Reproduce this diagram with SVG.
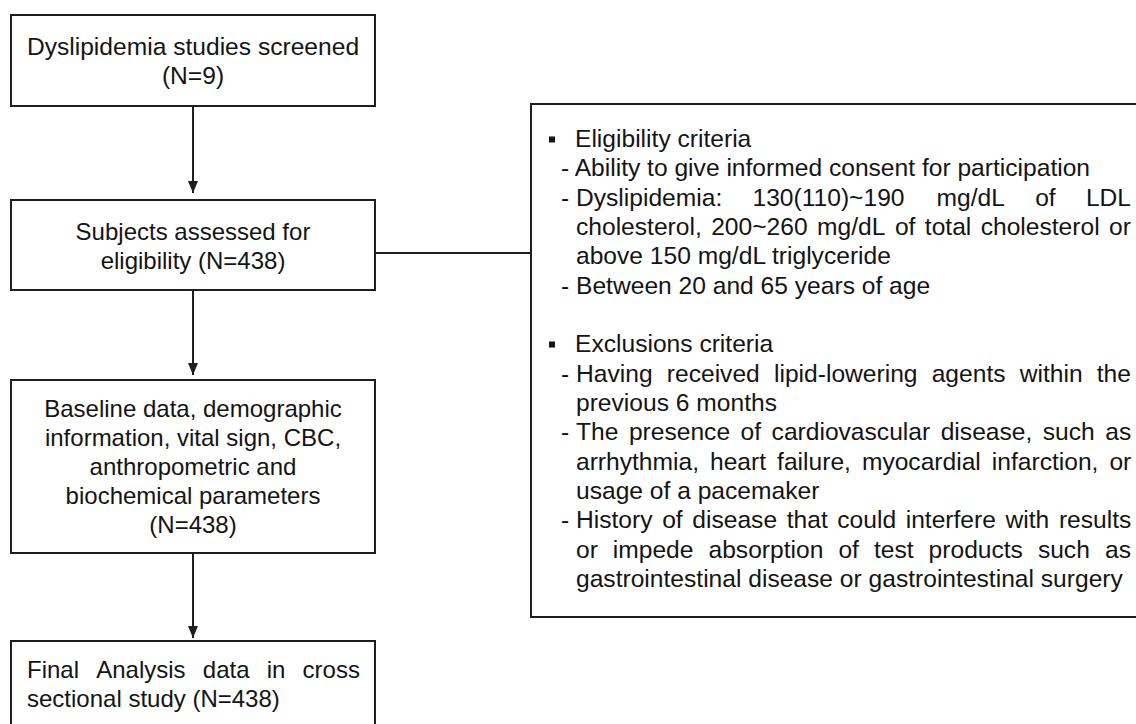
<svg xmlns="http://www.w3.org/2000/svg" width="1136" height="724" viewBox="0 0 1136 724">
<defs>
<style>
.box{fill:#fff;stroke:#1e1e1e;stroke-width:2}
.t{font-family:"Liberation Sans",Arial,sans-serif;font-size:24px;fill:#141414}
.r{font-size:24.6px}
.c{text-anchor:middle}
.ln{stroke:#1e1e1e;stroke-width:2;fill:none}
.bul{fill:#141414}
</style>
<marker id="ah" viewBox="0 0 12 10" refX="12" refY="5" markerWidth="12" markerHeight="10" markerUnits="userSpaceOnUse" orient="auto">
<path d="M0,0 L12,5 L0,10 Z" fill="#1e1e1e"/>
</marker>
</defs>
<rect width="1136" height="724" fill="#fff"/>

<g id="connectors">
<line class="ln" x1="193" y1="106" x2="193" y2="193" marker-end="url(#ah)"/>
<line class="ln" x1="193" y1="290" x2="193" y2="375" marker-end="url(#ah)"/>
<line class="ln" x1="193" y1="553" x2="193" y2="638" marker-end="url(#ah)"/>
<line class="ln" x1="375" y1="253" x2="531" y2="253"/>
</g>

<g id="screened">
<rect class="box" x="11" y="15" width="364" height="91"/>
<text class="t r c" x="193" y="54.5">Dyslipidemia studies screened</text>
<text class="t r c" x="193" y="83.5">(N=9)</text>
</g>

<g id="assessed">
<rect class="box" x="11" y="200" width="364" height="90"/>
<text class="t c" x="193" y="239.5">Subjects assessed for</text>
<text class="t c" x="193" y="268.5">eligibility (N=438)</text>
</g>

<g id="baseline">
<rect class="box" x="11" y="380" width="364" height="173"/>
<text class="t c" x="193" y="417">Baseline data, demographic</text>
<text class="t c" x="193" y="446">information, vital sign, CBC,</text>
<text class="t c" x="193" y="475">anthropometric and</text>
<text class="t c" x="193" y="504">biochemical parameters</text>
<text class="t c" x="193" y="533">(N=438)</text>
</g>

<g id="final">
<rect class="box" x="11" y="641" width="364" height="100"/>
<text class="t" y="678"><tspan x="27">Final</tspan><tspan x="96.2">Analysis</tspan><tspan x="202.8">data</tspan><tspan x="266.7">in</tspan><tspan x="302.6">cross</tspan></text>
<text class="t" x="27" y="707">sectional study (N=438)</text>
</g>

<g id="criteria">
<rect class="box" x="531" y="104" width="620" height="513"/>
<rect class="bul" x="549" y="136.5" width="6" height="6"/>
<text class="t r" x="575" y="147">Eligibility criteria</text>
<text class="t r" x="561" y="176">- Ability to give informed consent for participation</text>
<text class="t r" y="205.5"><tspan x="561">-</tspan><tspan x="576">Dyslipidemia:</tspan><tspan x="752.5">130(110)~190</tspan><tspan x="936.6">mg/dL</tspan><tspan x="1035.2">of</tspan><tspan x="1085.9">LDL</tspan></text>
<text class="t r" y="235"><tspan x="576">cholesterol,</tspan><tspan x="711.2">200~260</tspan><tspan x="817.1">mg/dL</tspan><tspan x="894.9">of</tspan><tspan x="924.8">total</tspan><tspan x="980.7">cholesterol</tspan><tspan x="1109">or</tspan></text>
<text class="t r" x="576" y="264">above 150 mg/dL triglyceride</text>
<text class="t r" x="561" y="293.5">- Between 20 and 65 years of age</text>

<rect class="bul" x="549" y="341.5" width="6" height="6"/>
<text class="t r" x="575" y="352">Exclusions criteria</text>
<text class="t r" y="381.5"><tspan x="561">-</tspan><tspan x="576">Having</tspan><tspan x="666.8">received</tspan><tspan x="774">lipid-lowering</tspan><tspan x="931.7">agents</tspan><tspan x="1019.7">within</tspan><tspan x="1096.7">the</tspan></text>
<text class="t r" x="576" y="411">previous 6 months</text>
<text class="t r" y="440"><tspan x="561">-</tspan><tspan x="576">The</tspan><tspan x="628.9">presence</tspan><tspan x="740.6">of</tspan><tspan x="771.6">cardiovascular</tspan><tspan x="940.7">disease,</tspan><tspan x="1042.8">such</tspan><tspan x="1105.3">as</tspan></text>
<text class="t r" y="469.5"><tspan x="576">arrhythmia,</tspan><tspan x="710">heart</tspan><tspan x="777.1">failure,</tspan><tspan x="861.9">myocardial</tspan><tspan x="991.8">infarction,</tspan><tspan x="1109.4">or</tspan></text>
<text class="t r" x="576" y="499">usage of a pacemaker</text>
<text class="t r" y="528"><tspan x="561">-</tspan><tspan x="576">History</tspan><tspan x="662.2">of</tspan><tspan x="692.3">disease</tspan><tspan x="786.7">that</tspan><tspan x="837.3">could</tspan><tspan x="905.7">interfere</tspan><tspan x="1005.5">with</tspan><tspan x="1058.9">results</tspan></text>
<text class="t r" y="557.5"><tspan x="576">or</tspan><tspan x="612.8">impede</tspan><tspan x="708.5">absorption</tspan><tspan x="838.4">of</tspan><tspan x="873.9">test</tspan><tspan x="928.6">products</tspan><tspan x="1037.9">such</tspan><tspan x="1105">as</tspan></text>
<text class="t r" x="576" y="587">gastrointestinal disease or gastrointestinal surgery</text>
</g>
</svg>
